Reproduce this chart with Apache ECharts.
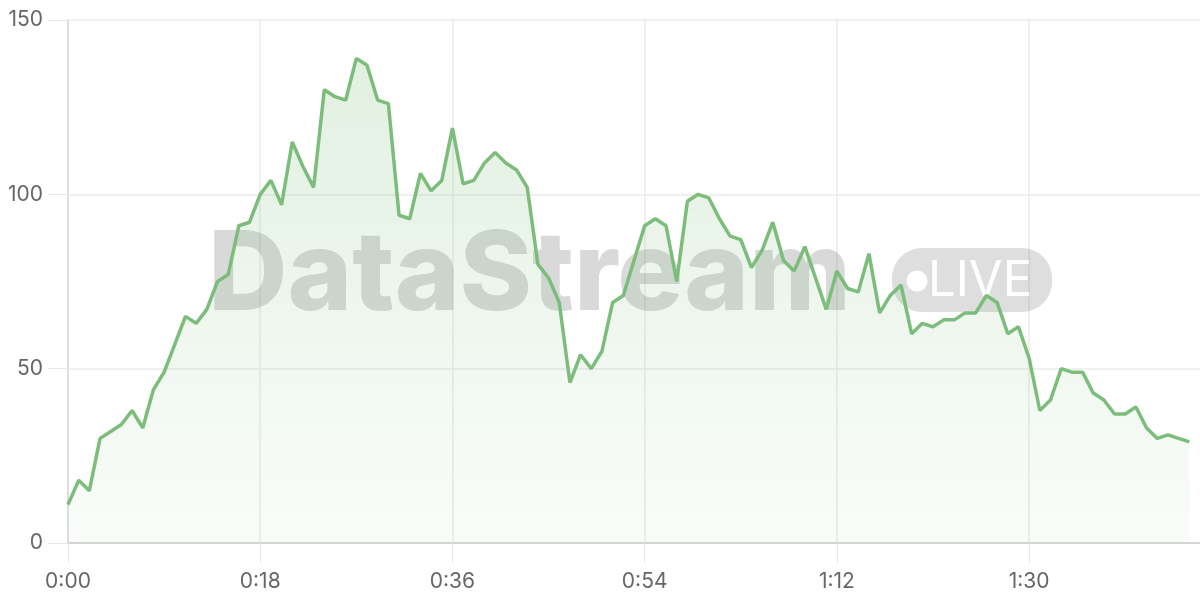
<!DOCTYPE html>
<html>
<head>
<meta charset="utf-8">
<script src="https://cdn.jsdelivr.net/npm/echarts@6/dist/echarts.min.js"></script>
<style>
html,body{margin:0;padding:0;background:#fff;}
#chart{width:1200px;height:600px;}
</style>
</head>
<body>
<div id="chart"></div>
<script>
// Values per second (0..105)
const values = [
  11, 18, 15, 30, 32, 34, 38, 33, 44, 49,
  57, 65, 63, 67, 75, 77, 91, 92, 100, 104,
  97, 115, 108, 102, 130, 128, 127, 139, 137, 127,
  126, 94, 93, 106, 101, 104, 119, 103, 104, 109,
  112, 109, 107, 102, 80, 76, 69, 46, 54, 50,
  55, 69, 71, 81, 91, 93, 91, 75, 98, 100,
  99, 93, 88, 87, 79, 84, 92, 81, 78, 85,
  76, 67, 78, 73, 72, 83, 66, 71, 74, 60,
  63, 62, 64, 64, 66, 66, 71, 69, 60, 62,
  53, 38, 41, 50, 49, 49, 43, 41, 37, 37,
  39, 33, 30, 31, 30, 29
];
const totalSeconds = 106; // axis spans 0..106 s
const categories = [];
for (let s = 0; s <= totalSeconds; s++) {
  categories.push(Math.floor(s / 60) + ':' + String(s % 60).padStart(2, '0'));
}
const yTicks = [0, 50, 100, 150];
const watermarkText = 'DataStream';
const badgeText = 'LIVE';

const chart = echarts.init(document.getElementById('chart'));
const font = 'Inter, "Noto Sans", sans-serif';
chart.setOption({
  animation: false,
  grid: { left: 68, right: 0, top: 20, bottom: 57 },
  xAxis: {
    type: 'category',
    data: categories,
    boundaryGap: false,
    axisLine: { show: true, lineStyle: { color: '#cccccc', width: 1.5 } },
    axisTick: { show: true, interval: 17, length: 20, lineStyle: { color: '#e8e8e8' } },
    splitLine: { show: true, interval: 17, lineStyle: { color: '#ebebeb', width: 1.5 } },
    axisLabel: { interval: 17, margin: 28, color: '#666', fontSize: 21, fontFamily: font }
  },
  yAxis: {
    type: 'value',
    min: yTicks[0],
    max: yTicks[yTicks.length - 1],
    interval: 50,
    axisLine: { show: true, lineStyle: { color: '#d8d8d8', width: 1.5 } },
    axisTick: { show: true, length: 20, lineStyle: { color: '#e8e8e8' } },
    splitLine: { show: true, lineStyle: { color: '#ebebeb', width: 1.5 } },
    axisLabel: { margin: 25, color: '#666', fontSize: 21, fontFamily: font }
  },
  graphic: {
    elements: [
      {
        type: 'text', z: 1, left: 208, top: 222,
        style: { text: watermarkText, fill: 'rgba(0,0,0,0.15)', font: '800 110px ' + font }
      },
      {
        type: 'rect', z: 1, shape: { x: 892, y: 248, width: 160, height: 64, r: 30 },
        style: { fill: 'rgba(0,0,0,0.13)' }
      },
      {
        type: 'circle', z: 1, shape: { cx: 917, cy: 281, r: 10.5 },
        style: { fill: '#ffffff' }
      },
      {
        type: 'text', z: 1, left: 928, top: 257,
        style: { text: badgeText, fill: '#ffffff', font: '49px ' + font }
      }
    ]
  },
  series: [{
    type: 'line',
    data: values,
    z: 3,
    symbol: 'none',
    lineStyle: { color: '#7cbd7c', width: 3.5 },
    itemStyle: { color: '#7cbd7c' },
    areaStyle: {
      color: new echarts.graphic.LinearGradient(0, 0, 0, 1, [
        { offset: 0, color: 'rgba(124,189,124,0.32)' },
        { offset: 1, color: 'rgba(124,189,124,0.06)' }
      ])
    }
  }]
});
</script>
</body>
</html>
